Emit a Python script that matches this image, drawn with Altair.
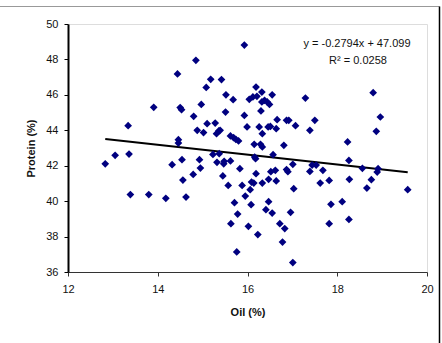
import altair as alt
import pandas as pd

oil = [12.83, 13.05, 13.34, 13.36, 13.39, 13.80, 13.91, 14.18, 14.32, 14.44,
       14.46, 14.46, 14.50, 14.53, 14.54, 14.56, 14.63, 14.79, 14.80, 14.85,
       14.88, 14.93, 14.95, 14.97, 15.02, 15.08, 15.10, 15.18, 15.23, 15.28,
       15.31, 15.32, 15.36, 15.37, 15.39, 15.42, 15.45, 15.47, 15.48, 15.51,
       15.52, 15.57, 15.62, 15.62, 15.63, 15.68, 15.69, 15.71, 15.74, 15.76,
       15.78, 15.80, 15.83, 15.88, 15.93, 15.93, 15.95, 15.99, 16.02, 16.04,
       16.06, 16.08, 16.09, 16.12, 16.14, 16.15, 16.16, 16.18, 16.19, 16.19,
       16.21, 16.23, 16.26, 16.29, 16.30, 16.32, 16.32, 16.33, 16.33, 16.33,
       16.38, 16.44, 16.46, 16.41, 16.47, 16.47, 16.49, 16.51, 16.52, 16.55,
       16.55, 16.57, 16.62, 16.64, 16.64, 16.66, 16.72, 16.81, 16.78, 16.83,
       16.87, 16.87, 16.90, 16.92, 16.96, 17.01, 17.01, 17.03, 17.07, 17.29,
       17.39, 17.39, 17.44, 17.50, 17.53, 17.62, 17.68, 17.82, 17.82, 17.86,
       18.11, 18.23, 18.26, 18.27, 18.26, 18.56, 18.66, 18.76, 18.80, 18.87,
       18.89, 18.91, 18.96, 19.57]
protein = [42.11, 42.59, 44.26, 42.66, 40.37, 40.37, 45.30, 40.16, 42.06, 47.18,
           43.47, 43.28, 45.28, 45.16, 42.34, 41.19, 40.23, 41.51, 44.79, 47.95,
           44.00, 42.34, 41.87, 45.46, 43.87, 46.42, 44.37, 46.88, 42.64, 44.41,
           43.81, 42.19, 43.96, 42.68, 44.00, 46.86, 41.42, 42.11, 42.25, 45.03,
           46.00, 40.89, 42.27, 43.68, 38.73, 45.73, 43.58, 39.91, 43.49, 37.13,
           39.27, 43.40, 41.83, 40.89, 44.84, 48.81, 40.29, 44.19, 38.58, 45.75,
           40.65, 39.80, 41.08, 45.88, 41.02, 43.21, 42.49, 42.40, 46.44, 41.55,
           45.92, 38.11, 44.19, 43.21, 45.09, 45.60, 46.16, 43.81, 43.06, 41.02,
           45.69, 45.60, 44.19, 39.52, 39.97, 41.23, 45.46, 44.22, 41.66, 46.00,
           39.33, 42.62, 41.74, 41.14, 44.09, 44.60, 38.73, 43.15, 37.69, 38.45,
           44.56, 41.78, 41.66, 44.56, 39.37, 42.08, 36.53, 40.70, 44.26, 45.82,
           44.00, 41.68, 42.04, 44.56, 42.04, 41.02, 41.74, 41.17, 38.73, 39.82,
           39.97, 43.34, 42.30, 41.23, 38.97, 41.85, 40.74, 41.21, 46.12, 43.94,
           41.64, 41.83, 44.75, 40.65]

slope = -0.2794
intercept = 47.099
eq_lines = ["y = -0.2794x + 47.099", "R\u00b2 = 0.0258"]

x_ticks = [12, 14, 16, 18, 20]
y_ticks = [36, 38, 40, 42, 44, 46, 48, 50]

df = pd.DataFrame({"oil": oil, "protein": protein})
x_ends = [min(oil), max(oil)]
trend = pd.DataFrame({"oil": x_ends, "protein": [slope * v + intercept for v in x_ends]})

FONT = "Liberation Sans"

xs = alt.Scale(domain=[12, 20], nice=False, zero=False)
ys = alt.Scale(domain=[36, 50], nice=False, zero=False)

xaxis = alt.Axis(values=x_ticks, grid=False, title="Oil (%)", tickSize=4,
                 labelPadding=7, titlePadding=12, domainColor="#333333",
                 tickColor="#333333", labelFontSize=11, titleFontSize=11,
                 labelFont=FONT, titleFont=FONT, titleFontWeight="bold",
                 labelColor="#111111", titleColor="#111111",
                 labelOverlap=False, labelFlush=False)
yaxis = alt.Axis(values=y_ticks, grid=False, title="Protein (%)", tickSize=4,
                 labelPadding=6, titlePadding=9, domainColor="#000000",
                 domainWidth=2, tickColor="#000000", labelFontSize=11,
                 titleFontSize=11, labelFont=FONT, titleFont=FONT,
                 titleFontWeight="bold", labelColor="#111111", titleColor="#111111",
                 labelOverlap=False, labelFlush=False)

points = alt.Chart(df).mark_point(shape="diamond", filled=True, size=60,
                                  color="#000080", opacity=1).encode(
    x=alt.X("oil:Q", scale=xs, axis=xaxis),
    y=alt.Y("protein:Q", scale=ys, axis=yaxis),
)

line = alt.Chart(trend).mark_line(color="#000000", strokeWidth=2).encode(
    x=alt.X("oil:Q", scale=xs, axis=xaxis),
    y=alt.Y("protein:Q", scale=ys, axis=yaxis),
)

eq1 = alt.Chart(pd.DataFrame({"t": [eq_lines[0]]})).mark_text(
    font=FONT, fontSize=11, color="#111111", align="center", baseline="middle"
).encode(text="t:N", x=alt.value(289), y=alt.value(20))
eq2 = alt.Chart(pd.DataFrame({"t": [eq_lines[1]]})).mark_text(
    font=FONT, fontSize=11, color="#111111", align="center", baseline="middle"
).encode(text="t:N", x=alt.value(290), y=alt.value(37))

frame_top = alt.Chart(pd.DataFrame({"a": [0]})).mark_rule(
    color="#999999", strokeWidth=1
).encode(x=alt.value(-68), x2=alt.value(371.5), y=alt.value(-17.5))
frame_right = alt.Chart(pd.DataFrame({"a": [0]})).mark_rule(
    color="#000000", strokeWidth=1.5
).encode(x=alt.value(371.5), y=alt.value(-17.5), y2=alt.value(330))

chart = alt.layer(line, points, eq1, eq2, frame_top, frame_right).properties(
    width=359, height=248,
    autosize=alt.AutoSizeParams(type="none"),
    padding={"left": 68, "top": 24, "right": 15, "bottom": 71},
).configure_view(stroke="#808080", strokeWidth=1).configure(
    background="white"
).configure_axis(labelOverlap=False)

chart.save("out.html", embed_options={"renderer": "svg", "actions": False})
